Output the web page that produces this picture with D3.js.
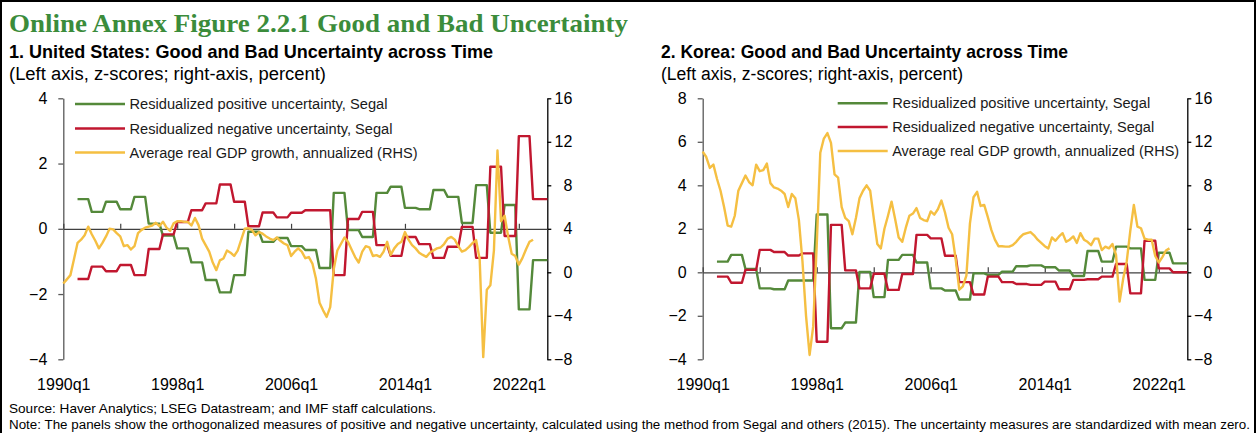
<!DOCTYPE html>
<html><head><meta charset="utf-8">
<script src="https://cdn.jsdelivr.net/npm/d3@7"></script>
<style>
body{margin:0;background:#fff;}
svg{display:block;font-family:"Liberation Sans",Arial,sans-serif;}
</style></head><body><svg id="c" width="1257" height="433"></svg>
<script>
// ---------------- DATA ----------------
const quarters = d3.range(137).map(i => (1990 + Math.floor(i / 4)) + "q" + (i % 4 + 1)); // 1990q1..2024q1
const years = d3.range(1991, 2025); // annual uncertainty values (held for each quarter of the year)
const xTickLabels = ["1990q1", "1998q1", "2006q1", "2014q1", "2022q1"];
const xTickMarks = ["1990q1","1994q1","1998q1","2002q1","2006q1","2010q1","2014q1","2018q1","2022q1"];
const usLeftTicks = [-4, -2, 0, 2, 4];
const krLeftTicks = [-4, -2, 0, 2, 4, 6, 8];
const rightTicks = [-8, -4, 0, 4, 8, 12, 16];

const seriesNames = ["Residualized positive uncertainty, Segal", "Residualized negative uncertainty, Segal", "Average real GDP growth, annualized (RHS)"];

// United States
const usPositive = [0.91,0.52,0.83,0.60,0.98,0.16,-0.21,-0.60,-1.03,-1.57,-1.95,-1.42,-0.09,-0.40,-0.28,-0.53,-0.65,-1.20,1.10,-0.04,-0.25,1.10,1.29,0.64,0.60,1.19,0.98,0.18,1.34,-0.12,0.73,-2.47,-0.96,-0.96];
const usNegative = [-1.54,-1.16,-1.30,-1.11,-1.42,-0.62,-0.17,0.21,0.57,0.78,1.36,0.83,0.08,0.50,0.35,0.49,0.57,0.57,-1.42,0.30,0.52,-0.50,-0.83,-0.25,-0.47,-0.89,-0.55,0.06,-0.89,1.90,-0.22,2.84,0.91,0.91];
const usGdp = [-1.03,-0.65,-0.26,1.2,2.7,3.0,3.4,4.2,3.5,2.9,2.2,2.7,3.3,4.0,3.95,3.6,3.3,2.4,2.5,2.1,
  2.4,3.6,3.9,4.1,4.2,4.3,4.55,4.25,4.65,4.1,3.8,4.5,4.7,4.7,4.64,4.64,4.3,5.0,4.34,3.1,
  2.5,1.9,0.9,0.2,1.1,1.27,2.0,1.8,1.5,2.0,3.0,4.0,4.05,3.9,3.4,3.7,3.55,3.3,3.1,2.96,
  3.2,2.9,2.65,2.5,1.5,1.9,2.2,1.9,1.3,1.4,0.8,-0.6,-2.8,-3.5,-4.1,-3.2,0.3,2.0,2.6,3.2,
  2.8,2.1,1.4,0.9,1.9,2.4,2.3,1.5,1.58,1.42,1.9,2.8,1.6,2.2,2.6,2.8,3.7,3.0,2.5,2.2,
  1.8,1.6,1.42,1.8,2.0,2.2,2.28,2.6,3.1,3.26,3.0,2.4,1.9,2.04,2.34,2.7,2.96,1.2,-7.8,-1.6,
  -1.2,2.0,11.2,4.7,5.2,3.3,1.7,1.5,0.7,1.3,2.1,2.8,3.0];

// Korea
const krPositive = [0.49,0.80,0.15,-0.74,-0.78,-0.38,-0.38,2.66,-2.57,-2.31,0.02,-1.14,0.57,0.80,0.45,-0.74,-0.84,-1.25,-0.05,-0.12,0.03,0.28,0.32,0.23,0.08,-0.17,0.98,0.49,1.18,1.10,-0.35,0.90,0.41,0.41];
const krNegative = [-0.20,-0.48,0.11,1.03,0.93,0.77,0.87,-3.19,2.18,0.09,-0.74,-0.07,-0.81,-0.08,1.72,1.56,0.76,-0.45,-1.02,-0.20,-0.45,-0.54,-0.58,-0.43,-0.78,-0.35,-0.32,-0.20,0.38,-0.97,1.45,0.18,0.00,0.00];
const krGdp = [11.1,10.6,9.6,9.9,8.6,7.5,6.0,4.3,4.2,5.2,7.5,8.2,8.9,8.3,8.0,9.9,9.3,9.4,10.0,8.2,
  7.8,7.7,7.5,7.2,6.0,7.2,6.8,4.8,1.0,-4.0,-7.6,-5.0,2.5,11.0,12.3,12.8,11.9,9.0,8.7,6.0,
  5.0,4.7,3.5,5.0,6.8,7.5,8.0,7.5,5.0,2.6,2.2,4.0,5.2,6.5,4.9,3.2,2.8,4.1,5.2,5.4,
  5.9,5.0,4.8,4.7,5.6,5.3,5.8,6.6,5.5,4.1,3.5,1.2,-1.6,-1.3,-0.3,4.5,6.9,7.4,6.1,6.2,
  5.1,3.9,3.0,2.4,2.4,2.36,2.36,2.5,2.8,3.2,3.5,3.6,3.7,3.4,3.0,2.7,2.4,2.2,3.2,2.9,
  3.3,3.6,2.8,3.0,3.3,2.7,3.6,3.0,2.8,2.5,3.1,3.1,2.05,2.36,2.2,2.6,1.6,-2.7,-0.6,1.0,
  3.8,6.2,4.2,4.05,3.1,3.0,3.0,1.5,0.9,1.4,2.0,2.2];

// ---------------- STYLE ----------------
const colors = ["#54893a", "#c1172f", "#f5bf42"];
const svg = d3.select("#c");
const narrow = '"Liberation Sans Narrow","Arial Narrow","Liberation Sans",Arial,sans-serif';

svg.append("rect").attr("x", 1).attr("y", 1).attr("width", 1254).attr("height", 445)
  .attr("fill", "none").attr("stroke", "#000").attr("stroke-width", 2);

svg.append("text").attr("x", 9).attr("y", 31.5)
  .attr("font-family", '"Liberation Serif","Times New Roman",serif').attr("font-weight", "bold")
  .attr("font-size", 25).attr("fill", "#3b8c3b").attr("textLength", 619).attr("lengthAdjust", "spacingAndGlyphs")
  .text("Online Annex Figure 2.2.1 Good and Bad Uncertainty");

svg.append("text").attr("x", 9).attr("y", 412.5).attr("font-family", narrow).attr("font-size", 13)
  .attr("textLength", 427).attr("lengthAdjust", "spacingAndGlyphs")
  .text("Source: Haver Analytics; LSEG Datastream; and IMF staff calculations.");
svg.append("text").attr("x", 9).attr("y", 429).attr("font-family", narrow).attr("font-size", 12.5)
  .attr("textLength", 1241).attr("lengthAdjust", "spacingAndGlyphs")
  .text("Note: The panels show the orthogonalized measures of positive and negative uncertainty, calculated using the method from Segal and others (2015). The uncertainty measures are standardized with mean zero.");

function expandAnnual(vals) {
  const pts = [];
  vals.forEach((v, k) => {
    for (let q = 1; q <= 4; q++) {
      const lab = years[k] + "q" + q;
      if (quarters.indexOf(lab) >= 0) pts.push({ q: lab, v: v });
    }
  });
  return pts;
}

function panel(cfg) {
  const g = svg.append("g");
  const x = d3.scalePoint().domain(quarters).range([cfg.x0, cfg.x1]);
  const yL = d3.scaleLinear().domain(cfg.leftDomain).range([cfg.yB, cfg.yT]);
  const yR = d3.scaleLinear().domain([-8, 16]).range([cfg.yB, cfg.yT]);

  // headings
  g.append("text").attr("x", cfg.tx).attr("y", 58.3).attr("font-family", narrow).attr("font-weight", "bold")
    .attr("font-size", 18.5).attr("textLength", cfg.titleLen).attr("lengthAdjust", "spacingAndGlyphs").text(cfg.title);
  g.append("text").attr("x", cfg.tx).attr("y", 80).attr("font-family", narrow)
    .attr("font-size", 18).attr("textLength", cfg.subLen).attr("lengthAdjust", "spacingAndGlyphs")
    .text("(Left axis, z-scores; right-axis, percent)");

  // left axis
  const la = g.append("g").attr("transform", `translate(${cfg.x0},0)`)
    .call(d3.axisLeft(yL).tickValues(cfg.leftTicks).tickSize(5).tickSizeOuter(0).tickPadding(11).tickFormat(d3.format("d")));
  la.selectAll("path,line").attr("stroke", "#595959").attr("stroke-width", 1.3);
  la.selectAll("text").attr("font-size", 16).attr("fill", "#000").attr("font-family", "Liberation Sans, Arial, sans-serif");

  // right axis
  const ra = g.append("g").attr("transform", `translate(${cfg.x1},0)`)
    .call(d3.axisRight(yR).tickValues(rightTicks).tickSize(4).tickSizeOuter(0).tickFormat(d3.format("d")));
  ra.selectAll("path,line").attr("stroke", "#000").attr("stroke-width", 1.3);
  ra.selectAll("text").attr("x", 25).attr("text-anchor", "end").attr("font-size", 16).attr("fill", "#000")
    .attr("font-family", "Liberation Sans, Arial, sans-serif");

  // category axis at zero with upward ticks
  const za = g.append("g").attr("transform", `translate(0,${yL(0)})`)
    .call(d3.axisTop(x).tickValues(xTickMarks).tickSize(5).tickSizeOuter(0).tickFormat(""));
  za.selectAll("path,line").attr("stroke", "#404040").attr("stroke-width", 1.2);

  const xl = g.append("g").attr("transform", `translate(0,${cfg.yB + 13})`)
    .call(d3.axisBottom(x).tickValues(xTickLabels).tickSize(0).tickPadding(6));
  xl.select(".domain").remove();
  xl.selectAll("text").attr("font-size", 16).attr("fill", "#000").attr("font-family", "Liberation Sans, Arial, sans-serif");

  // series
  const lineL = d3.line().x(d => x(d.q)).y(d => yL(d.v));
  const lineR = d3.line().x(d => x(d.q)).y(d => yR(d.v));
  const sw = 2.4;
  g.append("path").datum(expandAnnual(cfg.pos)).attr("d", lineL).attr("fill", "none")
    .attr("stroke", colors[0]).attr("stroke-width", sw).attr("stroke-linejoin", "round");
  g.append("path").datum(expandAnnual(cfg.neg)).attr("d", lineL).attr("fill", "none")
    .attr("stroke", colors[1]).attr("stroke-width", sw).attr("stroke-linejoin", "round");
  g.append("path").datum(cfg.gdp.map((v, i) => ({ q: quarters[i], v: v }))).attr("d", lineR).attr("fill", "none")
    .attr("stroke", colors[2]).attr("stroke-width", sw).attr("stroke-linejoin", "round");

  // legend
  const lg = g.append("g");
  seriesNames.forEach((name, k) => {
    const yy = cfg.legY[k];
    lg.append("line").attr("x1", cfg.legX).attr("x2", cfg.legX + 50).attr("y1", yy).attr("y2", yy)
      .attr("stroke", colors[k]).attr("stroke-width", 2.4);
    lg.append("text").attr("x", cfg.legX + 54.5).attr("y", yy).attr("dy", "0.35em").attr("font-size", 14.7)
      .attr("fill", "#1a1a1a").attr("textLength", cfg.legLen[k]).attr("lengthAdjust", "spacingAndGlyphs").text(name);
  });
}

panel({
  x0: 63.3, x1: 547.3, yT: 98.3, yB: 359.3, leftDomain: [-4, 4], leftTicks: usLeftTicks,
  tx: 9, title: "1. United States: Good and Bad Uncertainty across Time", titleLen: 484, subLen: 317,
  pos: usPositive, neg: usNegative, gdp: usGdp,
  legX: 75, legY: [104, 128.5, 152.5], legLen: [258, 263, 288]
});
panel({
  x0: 702.7, x1: 1187.3, yT: 98.3, yB: 359.3, leftDomain: [-4, 8], leftTicks: krLeftTicks,
  tx: 661, title: "2. Korea: Good and Bad Uncertainty across Time", titleLen: 407, subLen: 302,
  pos: krPositive, neg: krNegative, gdp: krGdp,
  legX: 837.7, legY: [103.3, 127, 151], legLen: [258, 262, 287]
});
</script></body></html>
